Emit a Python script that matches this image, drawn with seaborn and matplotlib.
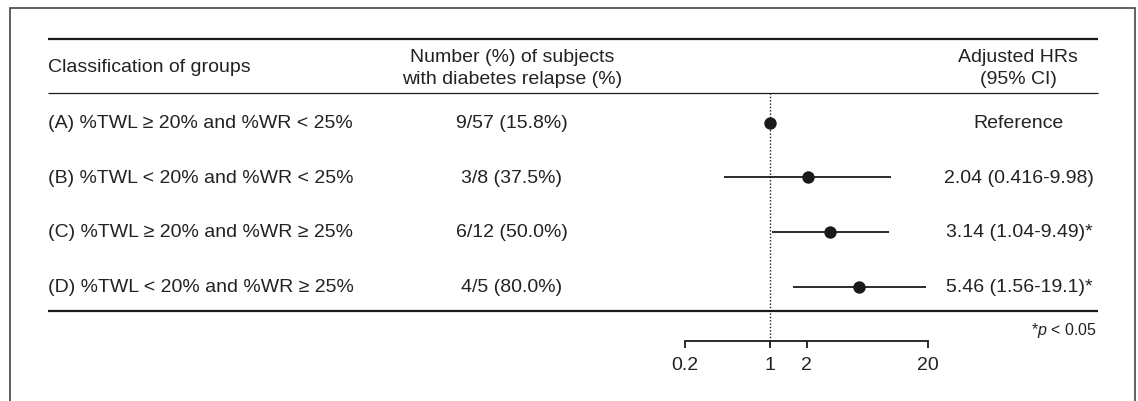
import numpy as np
import pandas as pd
import matplotlib
matplotlib.use("Agg")
import matplotlib.pyplot as plt
import seaborn as sns

# --- data -------------------------------------------------------------
groups = [
    "(A) %TWL \u2265 20% and %WR < 25%",
    "(B) %TWL < 20% and %WR < 25%",
    "(C) %TWL \u2265 20% and %WR \u2265 25%",
    "(D) %TWL < 20% and %WR \u2265 25%",
]
relapse_counts = ["9/57 (15.8%)", "3/8 (37.5%)", "6/12 (50.0%)", "4/5 (80.0%)"]
hr = [1.0, 2.04, 3.14, 5.46]
ci_low = [np.nan, 0.416, 1.04, 1.56]
ci_high = [np.nan, 9.98, 9.49, 19.1]
x_ticks = [0.2, 1, 2, 20]
x_tick_labels = ["0.2", "1", "2", "20"]

headers = ["Classification of groups",
           "Number (%) of subjects\nwith diabetes relapse (%)",
           "Adjusted HRs\n(95% CI)"]

# --- style ------------------------------------------------------------
sns.set_theme(style="white")
plt.rcParams["font.family"] = ["Liberation Sans", "DejaVu Sans"]
plt.rcParams["mathtext.fontset"] = "custom"
plt.rcParams["mathtext.rm"] = "Liberation Sans"
plt.rcParams["mathtext.it"] = "Liberation Sans:italic"

TXT = "#222222"
INK = "#1a1a1a"
FS = 14

W, H = 1138, 402
fig = plt.figure(figsize=(W / 100, H / 100), dpi=100)

# overlay in pixel units for the table text and rules
bg = fig.add_axes([0, 0, 1, 1])
bg.set_xlim(0, W)
bg.set_ylim(H, 0)
bg.axis("off")

# frame
bg.plot([10, 10, 1135, 1135], [H, 9, 9, H], color="#444444", lw=1.2,
        solid_joinstyle="miter")

# table rules
bg.hlines(40, 48, 1098, color=INK, lw=1.6)
bg.hlines(94, 48, 1098, color=INK, lw=0.9)
bg.hlines(312, 48, 1098, color=INK, lw=1.6)

row_y0, row_step = 123.5, 54.7
rows = np.arange(len(groups))
row_px = row_y0 + rows * row_step

# headers
bg.text(48, 68, headers[0], ha="left", va="center", fontsize=FS, color=TXT)
bg.text(512, 68.5, headers[1], ha="center", va="center", fontsize=FS,
        color=TXT, linespacing=1.45)
bg.text(1018, 68.5, headers[2], ha="center", va="center", fontsize=FS,
        color=TXT, linespacing=1.45)

# row text
for i, y in enumerate(row_px):
    bg.text(48, y, groups[i], ha="left", va="center", fontsize=FS, color=TXT)
    bg.text(512, y, relapse_counts[i], ha="center", va="center",
            fontsize=FS, color=TXT)
    if np.isnan(ci_low[i]):
        label = "Reference"
    else:
        label = f"{hr[i]} ({ci_low[i]}-{ci_high[i]})"
        if ci_low[i] > 1:
            label += "*"
    bg.text(1019, y, label, ha="center", va="center", fontsize=FS, color=TXT)

bg.text(1097, 331, r"*$\it{p}$ < 0.05", ha="right", va="center",
        fontsize=11.5, color=TXT)

# --- forest panel -----------------------------------------------------
x0_px, x1_px = 685, 928
top_px, bot_px = 94, 342
ax = fig.add_axes([x0_px / W, (H - bot_px) / H,
                   (x1_px - x0_px) / W, (bot_px - top_px) / H])
ax.patch.set_alpha(0)
ax.set_xscale("log")
ax.set_xlim(0.2, 20)
ax.set_ylim((bot_px - row_y0) / row_step, (top_px - row_y0) / row_step)

df = pd.DataFrame({"hr": hr, "lo": ci_low, "hi": ci_high, "row": rows})
ci = df.dropna()
ax.hlines(ci["row"], ci["lo"], ci["hi"], color=INK, lw=1.3, zorder=2)
ax.axvline(1, color=INK, lw=1.0, ls=(0, (1, 1.4)), zorder=1)
sns.scatterplot(data=df, x="hr", y="row", ax=ax, s=80, color=INK,
                edgecolor=INK, linewidth=0, zorder=3, legend=False)

for side in ("top", "right", "left"):
    ax.spines[side].set_visible(False)
ax.spines["bottom"].set_color(INK)
ax.spines["bottom"].set_linewidth(1.3)
ax.set_yticks([])
ax.set_xticks(x_ticks)
ax.set_xticklabels(x_tick_labels)
ax.xaxis.set_minor_locator(matplotlib.ticker.NullLocator())
ax.tick_params(axis="x", direction="out", length=5, width=1.3, color=INK,
               labelsize=FS, labelcolor=TXT, pad=6, bottom=True)
ax.set_xlabel("")
ax.set_ylabel("")

fig.savefig("out.png", dpi=100)
